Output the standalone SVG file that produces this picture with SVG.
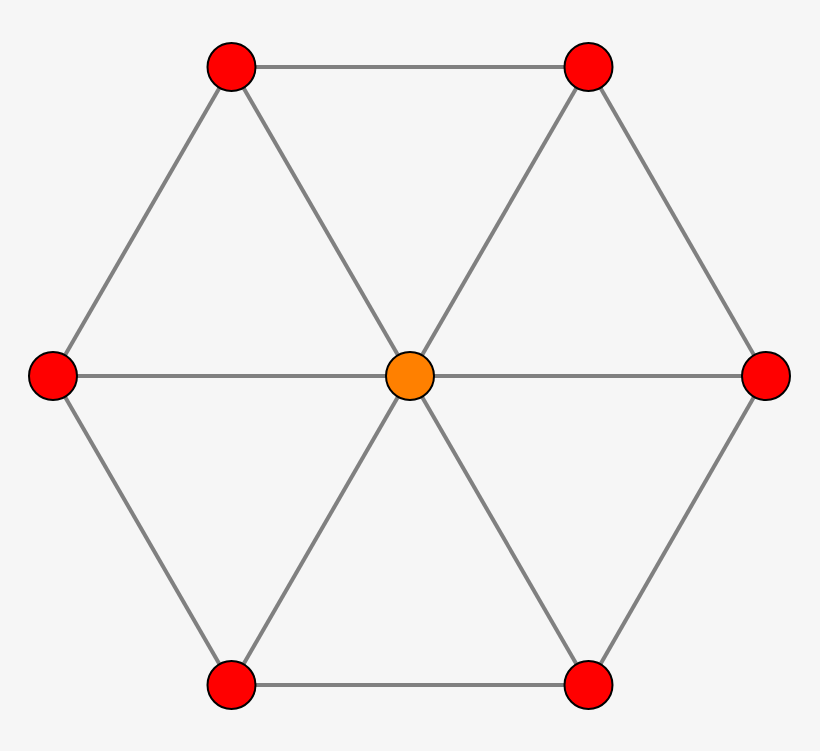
<svg xmlns="http://www.w3.org/2000/svg" width="820" height="751" viewBox="0 0 820 751">
<style>
.e{stroke:#808080;stroke-width:4;fill:none}
.n{stroke:#000;stroke-width:2}
.r{fill:#ff0000}
.o{fill:#ff8000}
</style>
<rect width="820" height="751" fill="#f6f6f6"/>
<g id="edges">
<line class="e" x1="231.5" y1="67" x2="588.5" y2="67"/>
<line class="e" x1="231.5" y1="685" x2="588.5" y2="685"/>
<line class="e" x1="53" y1="376" x2="766" y2="376"/>
<line class="e" x1="231.5" y1="67" x2="53" y2="376"/>
<line class="e" x1="53" y1="376" x2="231.5" y2="685"/>
<line class="e" x1="588.5" y1="67" x2="766" y2="376"/>
<line class="e" x1="766" y1="376" x2="588.5" y2="685"/>
<line class="e" x1="231.5" y1="67" x2="588.5" y2="685"/>
<line class="e" x1="588.5" y1="67" x2="231.5" y2="685"/>
</g>
<g id="n_center"><circle class="n o" cx="410" cy="376" r="24"/></g>
<g id="n_tl"><circle class="n r" cx="231.5" cy="67" r="24"/></g>
<g id="n_tr"><circle class="n r" cx="588.5" cy="67" r="24"/></g>
<g id="n_l"><circle class="n r" cx="53" cy="376" r="24"/></g>
<g id="n_r"><circle class="n r" cx="766" cy="376" r="24"/></g>
<g id="n_bl"><circle class="n r" cx="231.5" cy="685" r="24"/></g>
<g id="n_br"><circle class="n r" cx="588.5" cy="685" r="24"/></g>
</svg>
